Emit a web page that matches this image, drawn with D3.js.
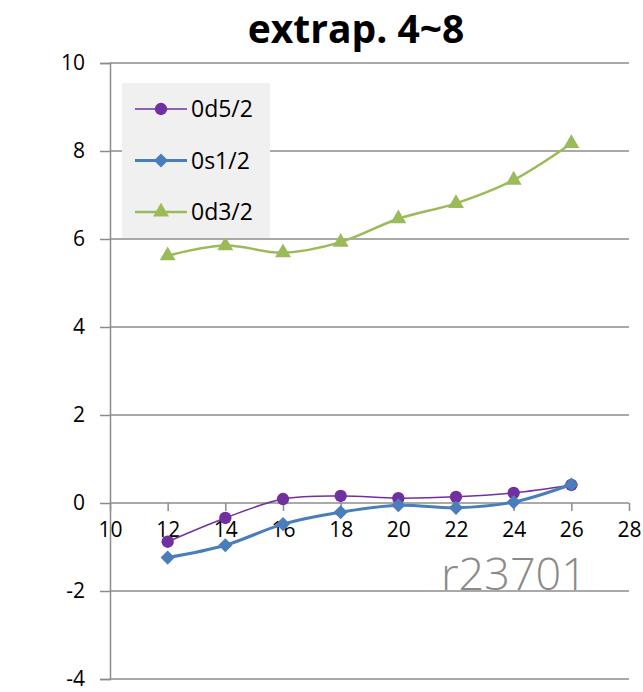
<!DOCTYPE html>
<html>
<head>
<meta charset="utf-8">
<script src="https://cdn.jsdelivr.net/npm/d3@7"></script>
<style>
  html, body { margin: 0; padding: 0; background: #fff; }
  svg { display: block; }
  text { font-family: "Open Sans", "Noto Sans", "Liberation Sans", sans-serif; }
</style>
</head>
<body>
<svg id="chart" width="643" height="692"></svg>
<script>
// Horizontal positions shared by every series
const xValues = [12, 14, 16, 18, 20, 22, 24, 26];

// Series values
const d52 = [-0.88, -0.34, 0.09, 0.16, 0.11, 0.14, 0.23, 0.41];
const s12 = [-1.24, -0.96, -0.48, -0.21, -0.05, -0.11, 0.02, 0.42];
const d32 = [5.62, 5.85, 5.69, 5.93, 6.46, 6.81, 7.34, 8.17];

// Axis ticks
const xTicks = [10, 12, 14, 16, 18, 20, 22, 24, 26, 28];
const yTicks = [-4, -2, 0, 2, 4, 6, 8, 10];

const seriesNames = ["0d5/2", "0s1/2", "0d3/2"];
const seriesColors = ["#7030a0", "#4a7ebb", "#9bbb59"];

const svg = d3.select("#chart");

const x = d3.scaleLinear().domain([10, 28]).range([110, 629]);
const y = d3.scaleLinear().domain([-4, 10]).range([679, 63]);

const gridColor = "#8c8c8c";
const plain = d => String(d);

// Horizontal gridlines
svg.append("g")
  .selectAll("line")
  .data(yTicks.filter(v => v !== 0))
  .join("line")
  .attr("x1", x(10)).attr("x2", x(28))
  .attr("y1", d => y(d)).attr("y2", d => y(d))
  .attr("stroke", gridColor).attr("stroke-width", 1.5);

// Vertical axis
const yAxis = d3.axisLeft(y).tickValues(yTicks).tickFormat(plain).tickSize(10).tickPadding(15);
const gy = svg.append("g").attr("transform", `translate(${x(10)},0)`).call(yAxis);
gy.select(".domain").attr("stroke", gridColor).attr("stroke-width", 1.5);
gy.selectAll(".tick line").attr("stroke", gridColor).attr("stroke-width", 1.5);
gy.selectAll(".tick text")
  .attr("font-size", 21).attr("fill", "#000")
  .style("font-family", "'Open Sans', sans-serif");

// Horizontal axis crossing at zero
const xAxis = d3.axisBottom(x).tickValues(xTicks).tickFormat(plain).tickSize(8).tickPadding(11);
const gx = svg.append("g").attr("transform", `translate(0,${y(0)})`).call(xAxis);
gx.select(".domain").attr("stroke", gridColor).attr("stroke-width", 1.5)
  .attr("d", `M${x(10)},0H${x(28)}`);
gx.selectAll(".tick line").attr("stroke", gridColor).attr("stroke-width", 1.5);
gx.selectAll(".tick text")
  .attr("font-size", 21).attr("fill", "#000")
  .style("font-family", "'Open Sans', sans-serif");

// Watermark
svg.append("text")
  .attr("x", 514).attr("y", 590)
  .attr("text-anchor", "middle")
  .attr("font-size", 45)
  .attr("fill", "#8a8a8a")
  .style("font-weight", 300)
  .text("r23701");

// Series, drawn in order so later series sit on top
const series = [
  { name: seriesNames[0], values: d52, color: seriesColors[0], width: 1.5, marker: "circle" },
  { name: seriesNames[1], values: s12, color: seriesColors[1], width: 3, marker: "diamond" },
  { name: seriesNames[2], values: d32, color: seriesColors[2], width: 2.5, marker: "triangle" }
];

const symbolFor = {
  circle: d3.symbol().type(d3.symbolCircle).size(120),
  diamond: d3.symbol().type(d3.symbolSquare).size(100),
  triangle: d3.symbol().type(d3.symbolTriangle).size(110)
};

const line = d3.line()
  .x((d, i) => x(xValues[i]))
  .y(d => y(d))
  .curve(d3.curveCatmullRom.alpha(0));

const plot = svg.append("g");
series.forEach(s => {
  const g = plot.append("g");
  g.append("path")
    .attr("d", line(s.values))
    .attr("fill", "none")
    .attr("stroke", s.color)
    .attr("stroke-width", s.width);
  g.selectAll("path.m")
    .data(s.values)
    .join("path")
    .attr("class", "m")
    .attr("transform", (d, i) => `translate(${x(xValues[i])},${y(d)})` + (s.marker === "diamond" ? " rotate(45)" : ""))
    .attr("d", symbolFor[s.marker]())
    .attr("fill", s.color);
});

// Legend
const legend = svg.append("g").attr("transform", "translate(122,83)");
legend.append("rect")
  .attr("width", 148).attr("height", 155)
  .attr("fill", "#f0f0f0");
series.forEach((s, i) => {
  const cy = 26 + i * 51.5;
  legend.append("line")
    .attr("x1", 13).attr("x2", 65)
    .attr("y1", cy).attr("y2", cy)
    .attr("stroke", s.color).attr("stroke-width", s.width);
  legend.append("path")
    .attr("transform", `translate(39,${cy})` + (s.marker === "diamond" ? " rotate(45)" : ""))
    .attr("d", symbolFor[s.marker]())
    .attr("fill", s.color);
  legend.append("text")
    .attr("x", 69).attr("y", cy + 8)
    .attr("font-size", 23)
    .attr("fill", "#000")
    .text(s.name);
});

// Title
svg.append("text")
  .attr("x", 356).attr("y", 43)
  .attr("text-anchor", "middle")
  .attr("font-size", 39)
  .attr("font-weight", "bold")
  .attr("fill", "#000")
  .text("extrap. 4~8");
</script>
</body>
</html>
